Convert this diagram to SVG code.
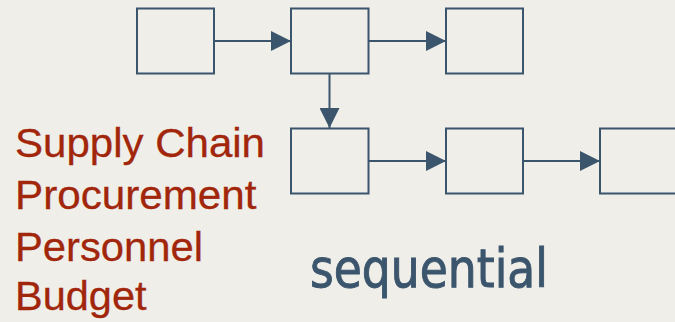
<svg xmlns="http://www.w3.org/2000/svg" width="675" height="322" viewBox="0 0 675 322">
<style>
.box{fill:none;stroke:#3b556d;stroke-width:2}
.con{stroke:#3b556d;stroke-width:2;fill:none}
.lbl{font-family:"Liberation Sans",Arial,sans-serif;font-size:41px;fill:#a1260b;stroke:#a1260b;stroke-width:0.3}
.seq{font-family:"DejaVu Sans Condensed","DejaVu Sans",sans-serif;font-size:53px;fill:#3b556d;stroke:#3b556d;stroke-width:0.9}
</style>
<defs>
<marker id="ah" markerWidth="20" markerHeight="20" viewBox="0 0 20 20" refX="20" refY="10" markerUnits="userSpaceOnUse" orient="auto">
<path d="M0,0 L20,10 L0,20 Z" fill="#3b556d"/>
</marker>
</defs>
<rect width="675" height="322" fill="#efeee8"/>
<g id="n1"><rect class="box" x="137" y="8.5" width="77" height="65"/></g>
<g id="n2"><rect class="box" x="291" y="8.5" width="77.5" height="65"/></g>
<g id="n3"><rect class="box" x="446" y="8.5" width="77" height="65"/></g>
<g id="n4"><rect class="box" x="291" y="128.5" width="77.5" height="65"/></g>
<g id="n5"><rect class="box" x="446" y="128.5" width="77" height="65"/></g>
<g id="n6"><rect class="box" x="600" y="128.5" width="80" height="65"/></g>
<g id="connectors">
<line class="con" x1="214" y1="41" x2="291" y2="41" marker-end="url(#ah)"/>
<line class="con" x1="368.5" y1="41" x2="446" y2="41" marker-end="url(#ah)"/>
<line class="con" x1="329.5" y1="73.5" x2="329.5" y2="128" marker-end="url(#ah)"/>
<line class="con" x1="368.5" y1="161" x2="446" y2="161" marker-end="url(#ah)"/>
<line class="con" x1="523" y1="161" x2="600" y2="161" marker-end="url(#ah)"/>
</g>
<g id="labels">
<text class="lbl" x="15" y="157" textLength="250" lengthAdjust="spacingAndGlyphs">Supply Chain</text>
<text class="lbl" x="15" y="208.5" textLength="241.5" lengthAdjust="spacingAndGlyphs">Procurement</text>
<text class="lbl" x="15" y="260.5" textLength="188" lengthAdjust="spacingAndGlyphs">Personnel</text>
<text class="lbl" x="15" y="310" textLength="131.5" lengthAdjust="spacingAndGlyphs">Budget</text>
<text class="seq" x="310" y="287" textLength="238" lengthAdjust="spacingAndGlyphs">sequential</text>
</g>
</svg>
